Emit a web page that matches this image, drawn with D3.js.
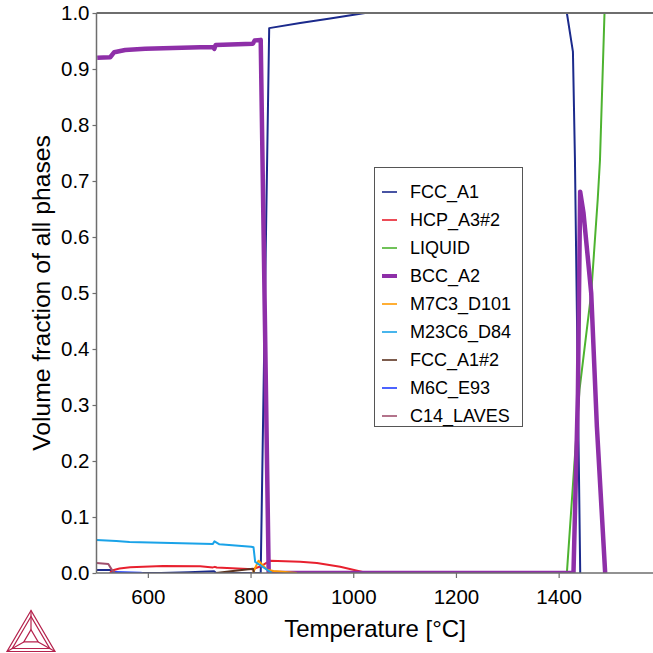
<!DOCTYPE html>
<html>
<head>
<meta charset="utf-8">
<script src="https://cdn.jsdelivr.net/npm/d3@7"></script>
<style>
  html, body { margin: 0; padding: 0; background: #fff; }
  svg { display: block; font-family: "Liberation Sans", Arial, sans-serif; }
</style>
</head>
<body>
<svg id="chart" width="653" height="653"></svg>
<script>
// ---- data: [temperature °C, volume fraction] ----
const fccA1 = [[500,0.0055],[527,0.0055],[532,0],[626,0],[680,0.0015],[729,0.003],[733,0],[819.8,0],[836.3,0.973],[896.6,0.982],[955,0.99],[1023,1.0],[1416,1.0],[1427.8,0.931],[1431.7,0.74],[1442,0]];
const hcpA3_2 = [[526,0],[531.9,0.005],[544.8,0.008],[565.6,0.0102],[629.3,0.0125],[701.9,0.012],[726.7,0.0100],[730.5,0.011],[734,0.0098],[804.6,0.0068],[820,0.012],[838,0.022],[896.6,0.020],[929.2,0.0178],[974.6,0.0113],[1026.6,0]];
const liquid = [[1416,0],[1440.6,0.327],[1463.4,0.4995],[1476,0.666],[1480.5,0.7375],[1489.3,1.0]];
const bccA2 = [[501.4,0.920],[526.7,0.921],[534.5,0.930],[555.9,0.934],[594.8,0.936],[701.9,0.939],[727,0.939],[729.5,0.936],[732,0.943],[804.5,0.945],[808,0.951],[819.8,0.952],[835.3,0],[1428.9,0],[1437.5,0.321],[1441.9,0.681],[1448.4,0.643],[1463.4,0.5],[1474.5,0.261],[1490.6,0]];
const m7c3 = [[804.6,0],[815.5,0.022],[831.9,0.006],[844.7,0.0036],[890.3,0]];
const m23c6 = [[500,0.0589],[538.5,0.057],[564.3,0.0553],[726.7,0.052],[729.8,0.0566],[739.5,0.0513],[801.3,0.047],[805.7,0.046],[809,0.020],[841.6,0]];
const fccA1_2 = [[733,0],[770,0.004],[804.6,0.0077],[807,0]];
const m6c = [[530,0],[534,0.002],[585,0.0005],[590,0]];
const c14 = [[500,0.018],[523,0.016],[529.7,0.006],[536,0]];

const phaseNames = ["FCC_A1","HCP_A3#2","LIQUID","BCC_A2","M7C3_D101","M23C6_D84","FCC_A1#2","M6C_E93","C14_LAVES"];
const phaseData = [fccA1, hcpA3_2, liquid, bccA2, m7c3, m23c6, fccA1_2, m6c, c14];
const phaseColors = ["#1b2a8c","#e8202e","#4db330","#8e2fa8","#ff9a00","#1aa3e8","#5c3320","#1f3cff","#a0506e"];
const phaseWidths = [2,2,2,4.5,2,2,2,2,2];

const xTicks = [600, 800, 1000, 1200, 1400];
const yTicks = [0,0.1,0.2,0.3,0.4,0.5,0.6,0.7,0.8,0.9,1.0];
const xLabel = "Temperature [°C]";
const yLabel = "Volume fraction of all phases";

// ---- layout ----
const svg = d3.select("#chart");
const pLeft = 96.5, pTop = 13, pBottom = 573;
const x = d3.scaleLinear().domain([500, 1600]).range([pLeft, pLeft + 1100 * 0.5135]);
const y = d3.scaleLinear().domain([0, 1]).range([pBottom, pTop]);

svg.append("defs").append("clipPath").attr("id", "clip")
  .append("rect").attr("x", pLeft).attr("y", pTop - 3).attr("width", 700).attr("height", pBottom - pTop + 3);

const line = d3.line().x(d => x(d[0])).y(d => y(d[1]));
const g = svg.append("g").attr("clip-path", "url(#clip)");
phaseData.forEach((d, i) => {
  g.append("path").datum(d)
    .attr("d", line)
    .attr("fill", "none")
    .attr("stroke", phaseColors[i])
    .attr("stroke-width", phaseWidths[i])
    .attr("stroke-linejoin", "round");
});

// ---- axes ----
const axisColor = "#6e6e6e";
const xAxis = svg.append("g").attr("transform", `translate(0,${pBottom})`)
  .call(d3.axisBottom(x).tickValues(xTicks).tickFormat(d3.format("d")).tickSize(5).tickPadding(11));
const yAxis = svg.append("g").attr("transform", `translate(${pLeft},0)`)
  .call(d3.axisLeft(y).tickValues(yTicks).tickFormat(d3.format(".1f")).tickSize(4).tickPadding(3));
[xAxis, yAxis].forEach(a => {
  a.select(".domain").attr("stroke", axisColor).attr("stroke-width", 1.5);
  a.selectAll(".tick line").attr("stroke", axisColor).attr("stroke-width", 1.2);
  a.selectAll(".tick text").attr("fill", "#000").style("font-size", "20.5px")
    .style("font-family", "'Liberation Sans', Arial, sans-serif");
});
xAxis.select(".domain").attr("d", `M${pLeft},0H653`);
yAxis.select(".domain").attr("d", `M0,${pBottom}V${pTop}`);
// top frame
svg.append("line").attr("x1", pLeft).attr("x2", 653).attr("y1", y(1)).attr("y2", y(1))
  .attr("stroke", axisColor).attr("stroke-width", 2);

// axis titles
svg.append("text").attr("x", 375).attr("y", 637).attr("text-anchor", "middle")
  .style("font-size", "24px").attr("fill", "#000").text(xLabel);
svg.append("text").attr("transform", `translate(50,${(pTop + pBottom) / 2}) rotate(-90)`)
  .attr("text-anchor", "middle").style("font-size", "24.7px").attr("fill", "#000").text(yLabel);

// ---- legend ----
const lg = svg.append("g");
lg.append("rect").attr("x", 374.5).attr("y", 167.5).attr("width", 148).attr("height", 259)
  .attr("fill", "#fff").attr("stroke", "#555").attr("stroke-width", 1);
phaseNames.forEach((n, i) => {
  const cy = 192 + i * 28;
  lg.append("line").attr("x1", 382).attr("x2", 397).attr("y1", cy).attr("y2", cy)
    .attr("stroke", phaseColors[i]).attr("stroke-width", i === 3 ? 4 : 1.6);
  lg.append("text").attr("x", 410).attr("y", cy).attr("dy", "0.35em")
    .style("font-size", "18px").attr("fill", "#000").text(n);
});

// ---- logo (decoration) ----
const logo = svg.append("g").attr("fill", "none").attr("stroke", "#b5214c").attr("stroke-width", 1.2)
  .attr("stroke-linejoin", "miter");
const A = [31, 610.5], B = [7, 651.5], C = [55, 651.5];
const cen = [(A[0]+B[0]+C[0])/3, (A[1]+B[1]+C[1])/3];
const sc = (p, s) => [cen[0] + (p[0]-cen[0])*s, cen[1] + (p[1]-cen[1])*s];
const tri = (s) => { const a = sc(A,s), b = sc(B,s), c = sc(C,s); return `M${a}L${b}L${c}Z`; };
logo.append("path").attr("d", tri(1));
logo.append("path").attr("d", tri(0.78));
logo.append("path").attr("d", tri(0.3));
[A, B, C].forEach(p => {
  const q = sc(p, 0.3);
  logo.append("line").attr("x1", q[0]).attr("y1", q[1]).attr("x2", p[0]).attr("y2", p[1]);
});
</script>
</body>
</html>
